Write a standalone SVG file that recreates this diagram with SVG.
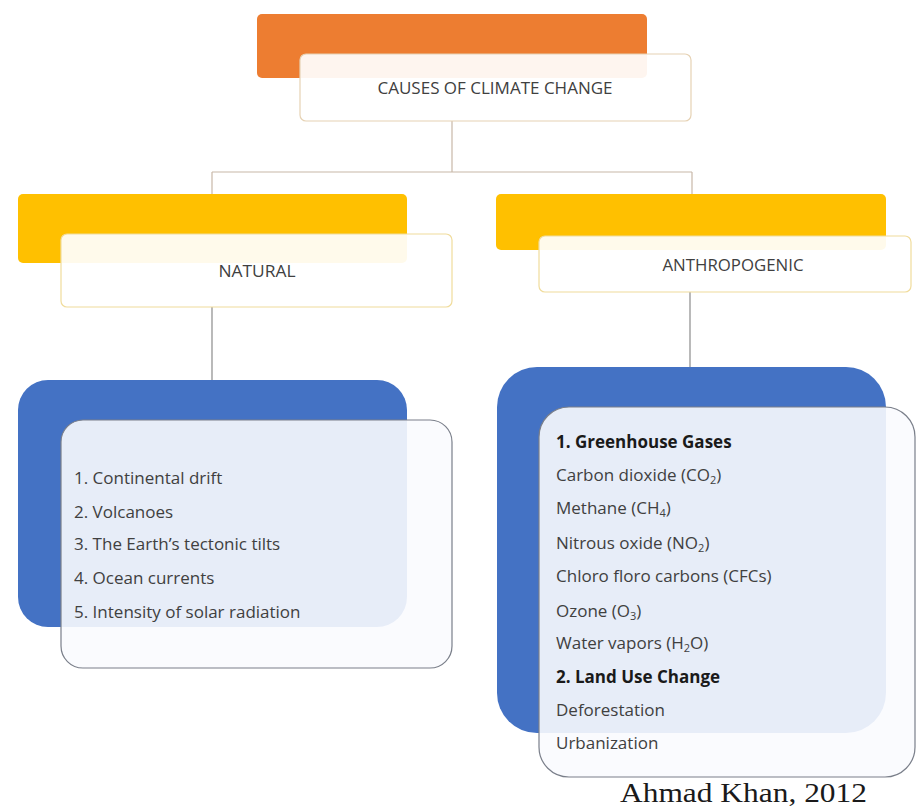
<svg xmlns="http://www.w3.org/2000/svg" width="918" height="809" viewBox="0 0 918 809">
<style>
.bg{fill:#ffffff}
.orange{fill:#ed7d31}
.yellow{fill:#ffc000}
.blue{fill:#4472c4}
.hdr{fill:#ffffff;fill-opacity:0.92;stroke:#e6d2b4;stroke-width:1.2}
.hdrY{fill:#ffffff;fill-opacity:0.92;stroke:#f0dc9c;stroke-width:1.2}
.card{fill:#fafbfe;fill-opacity:0.9;stroke:#7a7f8a;stroke-width:1.2}
.conn{fill:none;stroke:#c8b8a8;stroke-width:1.2}
.conn2{fill:none;stroke:#8c8c8c;stroke-width:1.2}
.t{font-family:"Open Sans","Liberation Sans",sans-serif;font-size:16px;fill:#404040}
.ti{font-family:"Open Sans","Liberation Sans",sans-serif;font-size:17px;fill:#404040}
.b{font-weight:bold;fill:#1a1a1a}
.sub{font-size:11px}
.credit{font-family:"Liberation Serif","Times New Roman",serif;font-size:28px;fill:#1a1a1a}
</style>
<rect class="bg" x="0" y="0" width="918" height="809"/>
<g id="connectors">
<path class="conn" d="M452,121 V172 M212,172 H692 M212,172 V194 M692,172 V194"/>
<path class="conn2" d="M212,307 V380 M690,292 V367"/>
</g>
<g id="root">
<rect class="orange" x="257" y="14" width="390" height="64" rx="5"/>
<rect class="hdr" x="300" y="54" width="391" height="67" rx="6"/>
<text class="t" x="495" y="94" text-anchor="middle" textLength="235" lengthAdjust="spacingAndGlyphs">CAUSES OF CLIMATE CHANGE</text>
</g>
<g id="natural">
<rect class="yellow" x="18" y="194" width="389" height="69" rx="5"/>
<rect class="hdrY" x="61" y="234" width="391" height="73" rx="6"/>
<text class="t" x="257" y="277" text-anchor="middle" textLength="77" lengthAdjust="spacingAndGlyphs">NATURAL</text>
</g>
<g id="anthropogenic">
<rect class="yellow" x="496" y="194" width="390" height="56" rx="5"/>
<rect class="hdrY" x="539" y="236" width="372" height="56" rx="6"/>
<text class="t" x="733" y="271" text-anchor="middle" textLength="141" lengthAdjust="spacingAndGlyphs">ANTHROPOGENIC</text>
</g>
<g id="natural-list">
<rect class="blue" x="18" y="380" width="389" height="247" rx="30"/>
<rect class="card" x="61" y="420" width="391" height="248" rx="22"/>
<text class="ti" x="74" y="484">1. Continental drift</text>
<text class="ti" x="74" y="518">2. Volcanoes</text>
<text class="ti" x="74" y="550">3. The Earth’s tectonic tilts</text>
<text class="ti" x="74" y="584">4. Ocean currents</text>
<text class="ti" x="74" y="618">5. Intensity of solar radiation</text>
</g>
<g id="anthropogenic-list">
<rect class="blue" x="497" y="367" width="389" height="366" rx="40"/>
<rect class="card" x="539" y="407" width="376" height="370" rx="30"/>
<text class="ti b" x="556" y="448">1. Greenhouse Gases</text>
<text class="ti" x="556" y="481">Carbon dioxide (CO<tspan class="sub" dy="3">2</tspan><tspan dy="-3">)</tspan></text>
<text class="ti" x="556" y="514">Methane (CH<tspan class="sub" dy="3">4</tspan><tspan dy="-3">)</tspan></text>
<text class="ti" x="556" y="549">Nitrous oxide (NO<tspan class="sub" dy="3">2</tspan><tspan dy="-3">)</tspan></text>
<text class="ti" x="556" y="582">Chloro floro carbons (CFCs)</text>
<text class="ti" x="556" y="617">Ozone (O<tspan class="sub" dy="3">3</tspan><tspan dy="-3">)</tspan></text>
<text class="ti" x="556" y="649">Water vapors (H<tspan class="sub" dy="3">2</tspan><tspan dy="-3">O)</tspan></text>
<text class="ti b" x="556" y="683">2. Land Use Change</text>
<text class="ti" x="556" y="716">Deforestation</text>
<text class="ti" x="556" y="749">Urbanization</text>
</g>
<text class="credit" x="620" y="802" textLength="247" lengthAdjust="spacingAndGlyphs">Ahmad Khan, 2012</text>
</svg>
